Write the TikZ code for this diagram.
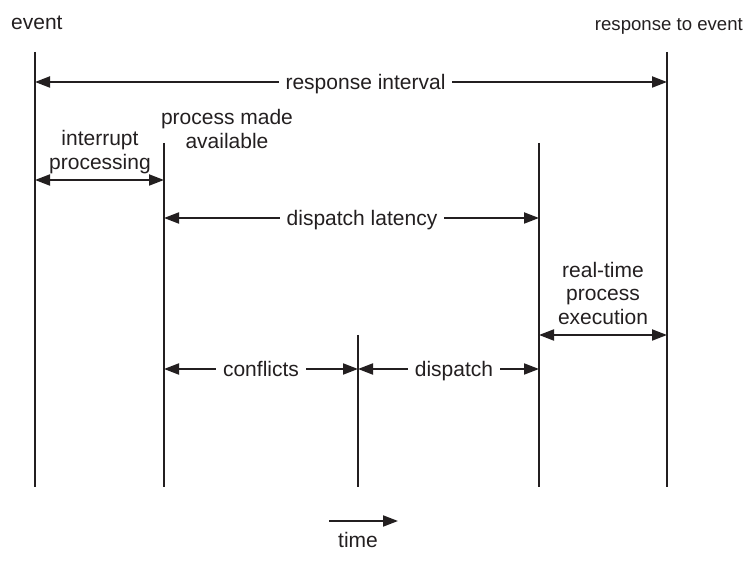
\documentclass[tikz,border=0pt]{standalone}
\usepackage{fontspec}
\setmainfont{Liberation Sans}
\usetikzlibrary{arrows.meta}
\definecolor{ink}{HTML}{231F20}
\begin{document}
\begin{tikzpicture}[x=1pt,y=-1pt,
  ink/.style={draw=ink,line width=2pt},
  timeline/.style={ink},
  tip/.tip={Triangle[length=15pt,width=11pt]},
  span/.style={ink,tip-tip},
  onward/.style={ink,-tip},
  lbl/.style={text=ink,font=\fontsize{21}{23.5}\selectfont,align=center,inner sep=0pt},
  gap/.style={lbl,fill=white,inner xsep=7pt,inner ysep=2pt,text height=15pt,text depth=4.5pt,yshift=-2pt},
  small/.style={text=ink,font=\fontsize{18.6}{21}\selectfont,inner sep=0pt}]
\useasboundingbox (0,0) rectangle (756,561);

% vertical time marks
\coordinate (evTop) at (35,52);   \coordinate (evBot) at (35,487);
\coordinate (paTop) at (164,143); \coordinate (paBot) at (164,487);
\coordinate (cfTop) at (358,335); \coordinate (cfBot) at (358,487);
\coordinate (dsTop) at (539,143); \coordinate (dsBot) at (539,487);
\coordinate (rsTop) at (667,52);  \coordinate (rsBot) at (667,487);
\foreach \m in {ev,pa,cf,ds,rs} \draw[timeline] (\m Top) -- (\m Bot);

% arrow end points on the marks
\coordinate (riL) at (35,82);   \coordinate (riR) at (667,82);
\coordinate (ipL) at (35,180);  \coordinate (ipR) at (164,180);
\coordinate (dlL) at (164,218); \coordinate (dlR) at (539,218);
\coordinate (rtL) at (539,335); \coordinate (rtR) at (667,335);
\coordinate (cfL) at (164,369); \coordinate (cfR) at (358,369);
\coordinate (dpL) at (358,369); \coordinate (dpR) at (539,369);

% intervals
\draw[span] (riL) -- (riR) node[gap,pos=0.523] (ri) {response interval};
\draw[span] (ipL) -- (ipR);
\draw[span] (dlL) -- (dlR) node[gap,pos=0.528] (dl) {dispatch latency};
\draw[span] (rtL) -- (rtR);
\draw[span] (cfL) -- (cfR) node[gap,pos=0.5] (cf) {conflicts};
\draw[span] (dpL) -- (dpR) node[gap,pos=0.53] (dp) {dispatch};

% free labels
\node[lbl,anchor=base west] (ev) at (11,30) {event};
\node[small,anchor=base east] (rs) at (743,31) {response to event};
\node[lbl] (ip) at (100,152) {interrupt\\processing};
\node[lbl] (pa) at (227,129) {process made\\available};
\node[lbl] (rt) at (603,293) {real-time\\process\\execution};

% time direction
\coordinate (tA) at (329,521); \coordinate (tB) at (398,521);
\draw[onward] (tA) -- (tB);
\node[lbl] (tm) at (358,540) {time};
\end{tikzpicture}
\end{document}
